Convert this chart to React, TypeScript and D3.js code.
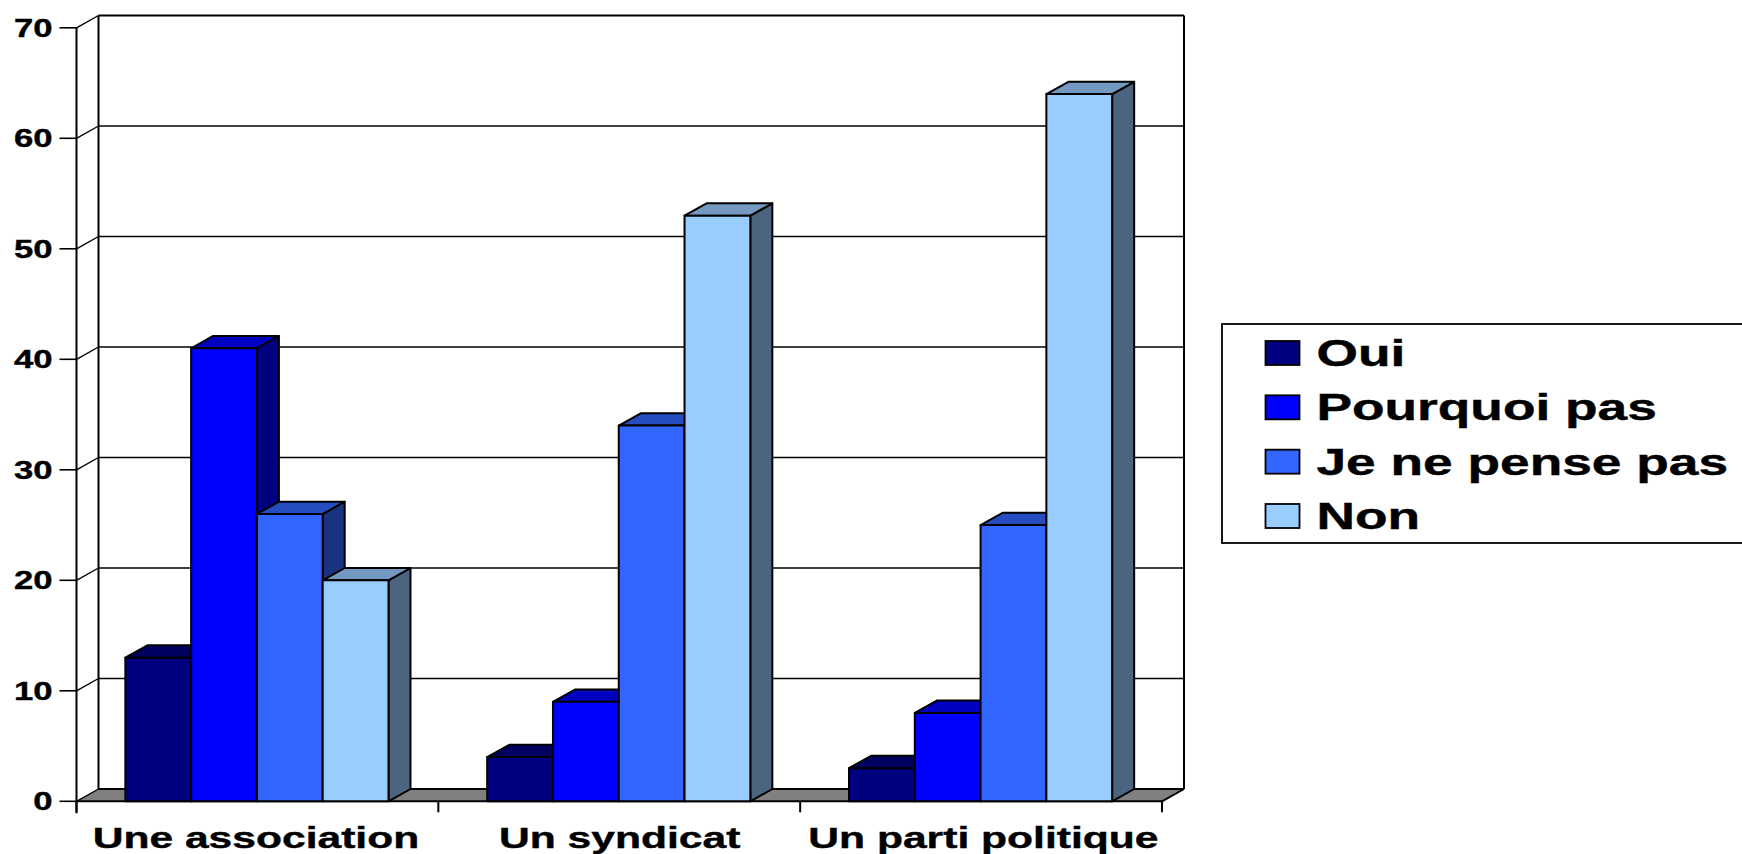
import React, { useEffect, useRef } from "react";
import * as d3 from "d3";

const categories = ["Une association", "Un syndicat", "Un parti politique"];
const seriesNames = ["Oui", "Pourquoi pas", "Je ne pense pas", "Non"];
const oui = [13, 4, 3];
const pourquoiPas = [41, 9, 8];
const jeNePensePas = [26, 34, 25];
const non = [20, 53, 64];
const seriesValues = [oui, pourquoiPas, jeNePensePas, non];
const yTicks = [0, 10, 20, 30, 40, 50, 60, 70];

const frontColors = ["#000080", "#0000ff", "#3366ff", "#99ccff"];
const topColors = ["#000060", "#0000c0", "#264dc0", "#7399c0"];
const sideColors = ["#000040", "#000080", "#1a3380", "#4d6480"];

const FONT = "'Liberation Sans', Arial, sans-serif";

const App = () => {
    const ref = useRef<SVGSVGElement>(null);

    useEffect(() => {
        const svg = d3.select(ref.current);
        svg.selectAll("*").remove(); // Clear previous renders

        // === Plot frame ===
        const left = 76.5;
        const right = 1162;
        const bottom = 801.3;
        const top = 27.8;
        const dx = 22; // 3d depth
        const dy = 12.3;

        const x = d3.scaleBand().domain(categories).range([left, right]);
        const inner = d3
            .scaleBand()
            .domain(seriesNames)
            .range([0, x.bandwidth()])
            .paddingOuter(0.75)
            .paddingInner(0);
        const y = d3.scaleLinear().domain([0, 70]).range([bottom, top]);

        const line = (x1, y1, x2, y2, w = 2) =>
            svg
                .append("line")
                .attr("x1", x1)
                .attr("y1", y1)
                .attr("x2", x2)
                .attr("y2", y2)
                .attr("stroke", "#000")
                .attr("stroke-width", w);

        // stretched text, the original is widened about 1.45x
        const label = (tx, ty, str, size, anchor = "start", sx = 1.42) =>
            svg
                .append("text")
                .attr("transform", `translate(${tx},${ty}) scale(${sx},1)`)
                .attr("text-anchor", anchor)
                .attr("font-family", FONT)
                .attr("font-weight", "bold")
                .attr("font-size", size)
                .attr("stroke", "#000")
                .attr("stroke-width", 0.4)
                .attr("fill", "#000")
                .text(str);

        // === Floor ===
        svg.append("polygon")
            .attr(
                "points",
                [
                    [left, bottom],
                    [left + dx, bottom - dy],
                    [right + dx, bottom - dy],
                    [right, bottom]
                ].join(" ")
            )
            .attr("fill", "#808080");

        // === Back wall and grid ===
        yTicks.forEach(t => {
            const ty = y(t);
            if (t > 0 && t < 70) line(left + dx, ty - dy, right + dx, ty - dy, 1.6);
            line(left, ty, left + dx, ty - dy, 1.4);
            line(left - 17, ty, left, ty, 1.6);
            label(left - 24, ty + 9, String(t), 25.5, "end", 1.36);
        });
        line(left + dx, top - dy, right + dx, top - dy);
        line(left + dx, bottom - dy, right + dx, bottom - dy);
        line(left + dx, top - dy, left + dx, bottom - dy);
        line(right + dx, top - dy, right + dx, bottom - dy);
        line(left, top, left, bottom + 12);
        line(left, bottom, right, bottom);
        line(right, bottom, right + dx, bottom - dy);

        // === Category ticks and labels ===
        [...categories.map(c => x(c)), right].forEach(tx => line(tx, bottom, tx, bottom + 11));
        categories.forEach((c, ci) => {
            label(x(c) + x.bandwidth() / 2 - 1.5 + 1.9 * ci, 848, c, 30, "middle");
        });

        // === Bars ===
        categories.forEach((c, ci) => {
            seriesNames.forEach((s, si) => {
                const bx = x(c) + inner(s) - 0.5;
                const bw = inner.bandwidth();
                const by = y(seriesValues[si][ci]);
                const face = (pts, fill) =>
                    svg
                        .append("polygon")
                        .attr("points", pts.join(" "))
                        .attr("fill", fill)
                        .attr("stroke", "#000")
                        .attr("stroke-width", 2)
                        .attr("stroke-linejoin", "round");
                face(
                    [
                        [bx + bw, by],
                        [bx + bw + dx, by - dy],
                        [bx + bw + dx, bottom - dy],
                        [bx + bw, bottom]
                    ],
                    sideColors[si]
                );
                face(
                    [
                        [bx, by],
                        [bx + dx, by - dy],
                        [bx + bw + dx, by - dy],
                        [bx + bw, by]
                    ],
                    topColors[si]
                );
                face(
                    [
                        [bx, by],
                        [bx + bw, by],
                        [bx + bw, bottom],
                        [bx, bottom]
                    ],
                    frontColors[si]
                );
            });
        });

        // === Legend ===
        svg.append("rect")
            .attr("x", 1222)
            .attr("y", 324)
            .attr("width", 530)
            .attr("height", 219)
            .attr("fill", "#fff")
            .attr("stroke", "#000")
            .attr("stroke-width", 1.8);
        const rowY = d3.scalePoint().domain(seriesNames).range([353, 516]);
        seriesNames.forEach((s, si) => {
            svg.append("rect")
                .attr("x", 1265.5)
                .attr("y", rowY(s) - 12)
                .attr("width", 34)
                .attr("height", 24)
                .attr("fill", frontColors[si])
                .attr("stroke", "#000")
                .attr("stroke-width", 1.8);
            label(1316.5, rowY(s) + 13, s, 36, "start", 1.48);
        });
    }, []);

    return (
        <svg
            ref={ref}
            width={1742}
            height={854}
            viewBox="0 0 1742 854"
            style={{ position: "fixed", left: 0, top: 0, background: "#fff" }}
        />
    );
};

export default App;
